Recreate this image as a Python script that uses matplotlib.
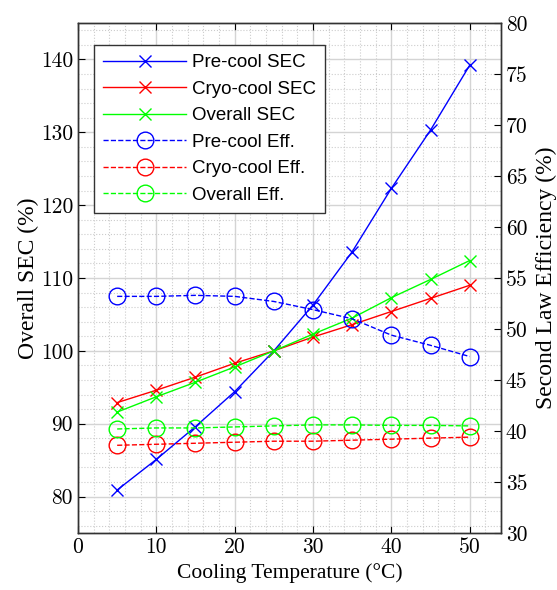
import numpy as np
import matplotlib.pyplot as plt
from matplotlib.ticker import MultipleLocator

# cooling temperature (deg C)
temp = [5, 10, 15, 20, 25, 30, 35, 40, 45, 50]

# SEC (%), left axis
pre_sec = [80.9, 85.1, 89.6, 94.4, 100.0, 106.3, 113.6, 122.3, 130.3, 139.2]
cryo_sec = [92.9, 94.6, 96.4, 98.3, 100.0, 101.9, 103.6, 105.4, 107.2, 109.0]
overall_sec = [91.6, 93.7, 95.7, 97.8, 100.0, 102.3, 104.5, 107.3, 109.8, 112.4]

# second law efficiency (%), right axis
pre_eff = [53.2, 53.2, 53.3, 53.2, 52.7, 51.9, 51.0, 49.4, 48.4, 47.3]
cryo_eff = [38.6, 38.7, 38.8, 38.9, 39.0, 39.0, 39.1, 39.2, 39.3, 39.4]
overall_eff = [40.2, 40.3, 40.3, 40.4, 40.5, 40.6, 40.6, 40.55, 40.55, 40.5]

serif = ['Liberation Serif', 'DejaVu Serif']
tickfont = 'cmr10'

fig = plt.figure(figsize=(5.57, 5.9), dpi=100)
ax = fig.add_axes([0.140, 0.0966, 0.7595, 0.8644])
ax2 = ax.twinx()

l1, = ax.plot(temp, pre_sec, '-x', color='b', lw=1, ms=9, mew=1, label='Pre-cool SEC')
l2, = ax.plot(temp, cryo_sec, '-x', color='r', lw=1, ms=9, mew=1, label='Cryo-cool SEC')
l3, = ax.plot(temp, overall_sec, '-x', color='#00ff00', lw=1, ms=9, mew=1, label='Overall SEC')

l4, = ax2.plot(temp, pre_eff, '--o', color='b', lw=1, ms=12, mew=1, mfc='none', label='Pre-cool Eff.')
l5, = ax2.plot(temp, cryo_eff, '--o', color='r', lw=1, ms=12, mew=1, mfc='none', label='Cryo-cool Eff.')
l6, = ax2.plot(temp, overall_eff, '--o', color='#00ff00', lw=1, ms=12, mew=1, mfc='none', label='Overall Eff.')

ax.set_xlim(0, 54)
ax.set_ylim(75, 145)
ax2.set_ylim(30, 80)

ax.xaxis.set_major_locator(MultipleLocator(10))
ax.xaxis.set_minor_locator(MultipleLocator(2))
ax.yaxis.set_major_locator(MultipleLocator(10))
ax.yaxis.set_minor_locator(MultipleLocator(2))
ax2.yaxis.set_major_locator(MultipleLocator(5))

ax.grid(True, which='major', color='#d4d4d4', lw=1)
ax.grid(True, which='minor', color='#cccccc', lw=0.8, ls=':')
ax.set_axisbelow(True)

ax.tick_params(axis='both', which='major', direction='in', length=5, top=True, labelsize=15.5)
ax.tick_params(axis='both', which='minor', length=0)
ax2.tick_params(axis='y', direction='in', length=5, labelsize=15.5)
for lab in ax.get_xticklabels() + ax.get_yticklabels() + ax2.get_yticklabels():
    lab.set_family(tickfont)

ax.set_xlabel('Cooling Temperature (°C)', family=serif, fontsize=15.5, labelpad=4)
ax.set_ylabel('Overall SEC (%)', family=serif, fontsize=17, labelpad=1)
ax2.set_ylabel('Second Law Efficiency (%)', family=serif, fontsize=17, labelpad=6)

for sp in list(ax.spines.values()) + list(ax2.spines.values()):
    sp.set_linewidth(1.0)
    sp.set_color('#333333')

leg = ax2.legend(handles=[l1, l2, l3, l4, l5, l6], loc='upper left',
                 bbox_to_anchor=(0.038, 0.957), borderaxespad=0,
                 prop={'family': ['Liberation Sans', 'DejaVu Sans'], 'size': 13.5},
                 handlelength=4.4, handletextpad=0.3, labelspacing=0.5, fancybox=False,
                 edgecolor='#333333', framealpha=1, borderpad=0.5)
leg.get_frame().set_linewidth(1.0)

fig.savefig('out.png', dpi=100)
